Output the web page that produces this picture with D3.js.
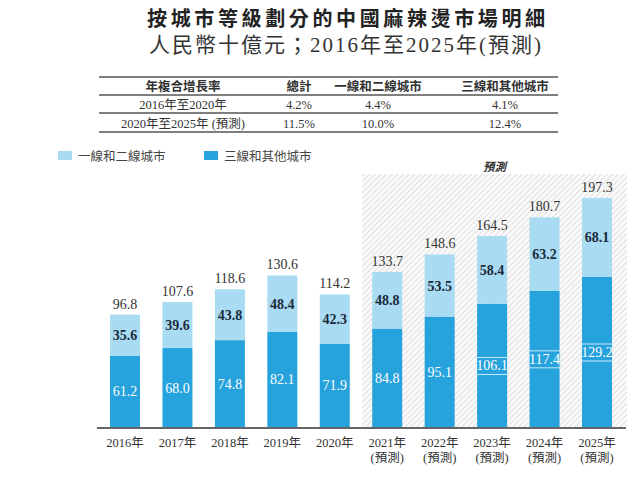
<!DOCTYPE html>
<html><head><meta charset="utf-8">
<script src="https://cdn.jsdelivr.net/npm/d3@7"></script>
<style>
html,body{margin:0;padding:0;background:#fff;}
svg{display:block;}
</style></head>
<body>
<svg id="chart" width="640" height="477"></svg>
<script>
const years = ["2016年","2017年","2018年","2019年","2020年","2021年","2022年","2023年","2024年","2025年"];
const forecastFlag = [false,false,false,false,false,true,true,true,true,true];
const tier12 = [35.6,39.6,43.8,48.4,42.3,48.8,53.5,58.4,63.2,68.1];
const tier3plus = [61.2,68.0,74.8,82.1,71.9,84.8,95.1,106.1,117.4,129.2];
const totals = [96.8,107.6,118.6,130.6,114.2,133.7,148.6,164.5,180.7,197.3];
const seriesNames = ["一線和二線城市","三線和其他城市"];
const tableHeader = ["年複合增長率","總計","一線和二線城市","三線和其他城市"];
const tableRows = [
  ["2016年至2020年","4.2%","4.4%","4.1%"],
  ["2020年至2025年 (預測)","11.5%","10.0%","12.4%"]
];
const title = "按城市等級劃分的中國麻辣燙市場明細";
const subtitle = "人民幣十億元；2016年至2025年(預測)";
const forecastLabel = "預測";
const forecastSuffix = "(預測)";

const cLight = "#a9dcf2", cDark = "#26a2dc";
const serif = "'Liberation Serif','DejaVu Serif',serif";
const cjk = "'Noto Sans CJK TC','Noto Sans CJK SC',sans-serif";

const svg = d3.select("#chart");

// Titles
svg.append("text").attr("x",346).attr("y",26).attr("text-anchor","middle")
  .attr("font-family",cjk).attr("font-weight","bold").attr("font-size",20)
  .attr("fill","#222").attr("textLength",398).attr("lengthAdjust","spacing").text(title);
svg.append("text").attr("x",346).attr("y",52).attr("text-anchor","middle")
  .attr("font-family",serif+","+cjk).attr("font-size",21).attr("fill","#333")
  .attr("letter-spacing",2).text(subtitle);

// Table
const colX = d3.scaleOrdinal().domain([0,1,2,3]).range([183,299,378,505]);
const tLines = [77,95,113,132];
tLines.forEach(y=>{
  svg.append("line").attr("x1",99).attr("x2",558).attr("y1",y).attr("y2",y)
    .attr("stroke","#555").attr("stroke-width",1.3);
});
tableHeader.forEach((t,i)=>{
  svg.append("text").attr("x",colX(i)).attr("y",90.5).attr("text-anchor","middle")
    .attr("font-family",cjk).attr("font-weight","bold").attr("font-size",12.5)
    .attr("fill","#333").text(t);
});
tableRows.forEach((row,r)=>{
  row.forEach((t,i)=>{
    svg.append("text").attr("x",colX(i)).attr("y",108.5+r*19.5).attr("text-anchor","middle")
      .attr("font-family",serif+","+cjk).attr("font-size",12.5)
      .attr("fill","#333").text(t);
  });
});

// Legend
const legX = [58,204];
seriesNames.forEach((n,i)=>{
  svg.append("rect").attr("x",legX[i]).attr("y",151).attr("width",14).attr("height",9)
    .attr("fill",i===0?cLight:cDark);
  svg.append("text").attr("x",legX[i]+20).attr("y",160.5)
    .attr("font-family",cjk).attr("font-size",12.5).attr("fill","#444").text(n);
});

// Scales
const x = d3.scalePoint().domain(years).range([125,597]);
const y = d3.scaleLinear().domain([0,200]).range([427,194.8]);
const bw = 30;

// Hatched forecast region
const defs = svg.append("defs");
const pat = defs.append("pattern").attr("id","hatch").attr("patternUnits","userSpaceOnUse")
  .attr("width",4).attr("height",4).attr("patternTransform","rotate(45)");
pat.append("rect").attr("width",4).attr("height",4).attr("fill","#fafafa");
pat.append("line").attr("x1",0).attr("y1",0).attr("x2",0).attr("y2",4)
  .attr("stroke","#d8d8d8").attr("stroke-width",1.6);
const firstF = years[forecastFlag.indexOf(true)];
const hx0 = x(firstF) - bw/2 - 10, hx1 = x(years[years.length-1]) + bw/2 + 15;
svg.append("rect").attr("x",hx0).attr("y",174).attr("width",hx1-hx0).attr("height",427-174)
  .attr("fill","url(#hatch)");
svg.append("text").attr("x",(hx0+hx1)/2).attr("y",171).attr("text-anchor","middle")
  .attr("font-family",cjk).attr("font-weight","bold").attr("font-style","italic")
  .attr("font-size",11.5).attr("fill","#333").text(forecastLabel);

// Bars
const g = svg.append("g");
years.forEach((yr,i)=>{
  const cx = x(yr);
  g.append("rect").attr("x",cx-bw/2).attr("y",y(tier3plus[i])).attr("width",bw)
    .attr("height",y(0)-y(tier3plus[i])).attr("fill",cDark);
  g.append("rect").attr("x",cx-bw/2).attr("y",y(tier3plus[i]+tier12[i])).attr("width",bw)
    .attr("height",y(tier3plus[i])-y(tier3plus[i]+tier12[i])).attr("fill",cLight);
  g.append("text").attr("x",cx).attr("y",y(totals[i])-6).attr("text-anchor","middle")
    .attr("font-family",serif).attr("font-size",14).attr("fill","#333").text(totals[i].toFixed(1));
  const ly = (y(tier3plus[i])+y(tier3plus[i]+tier12[i]))/2 + 5;
  g.append("text").attr("x",cx).attr("y",ly).attr("text-anchor","middle")
    .attr("font-family",serif).attr("font-weight","bold").attr("font-size",14)
    .attr("fill","#1b2a3b").text(tier12[i].toFixed(1));
  const dy = (y(0)+y(tier3plus[i]))/2 + 5;
  if (tier3plus[i] >= 100) {
    g.append("rect").attr("x",cx-bw/2-1).attr("y",dy-13).attr("width",bw+2).attr("height",17)
      .attr("fill","none").attr("stroke","#dff1fa").attr("stroke-width",0.9);
  }
  g.append("text").attr("x",cx).attr("y",dy).attr("text-anchor","middle")
    .attr("font-family",serif).attr("font-size",14).attr("fill","#fff").text(tier3plus[i].toFixed(1));
});

// Axis
const axis = d3.axisBottom(x).tickSize(0).tickPadding(0).tickFormat("");
const ag = svg.append("g").attr("transform","translate(0,428)").call(axis);
ag.select(".domain").remove();
svg.append("line").attr("x1",97).attr("x2",626).attr("y1",428).attr("y2",428)
  .attr("stroke","#666").attr("stroke-width",2);
years.forEach((yr,i)=>{
  const t = svg.append("text").attr("x",x(yr)).attr("y",447).attr("text-anchor","middle")
    .attr("font-family",serif+","+cjk).attr("font-size",12.5).attr("fill","#333");
  t.append("tspan").attr("x",x(yr)).text(yr);
  if (forecastFlag[i]) t.append("tspan").attr("x",x(yr)).attr("dy",15).text(forecastSuffix);
});
</script>
</body></html>
